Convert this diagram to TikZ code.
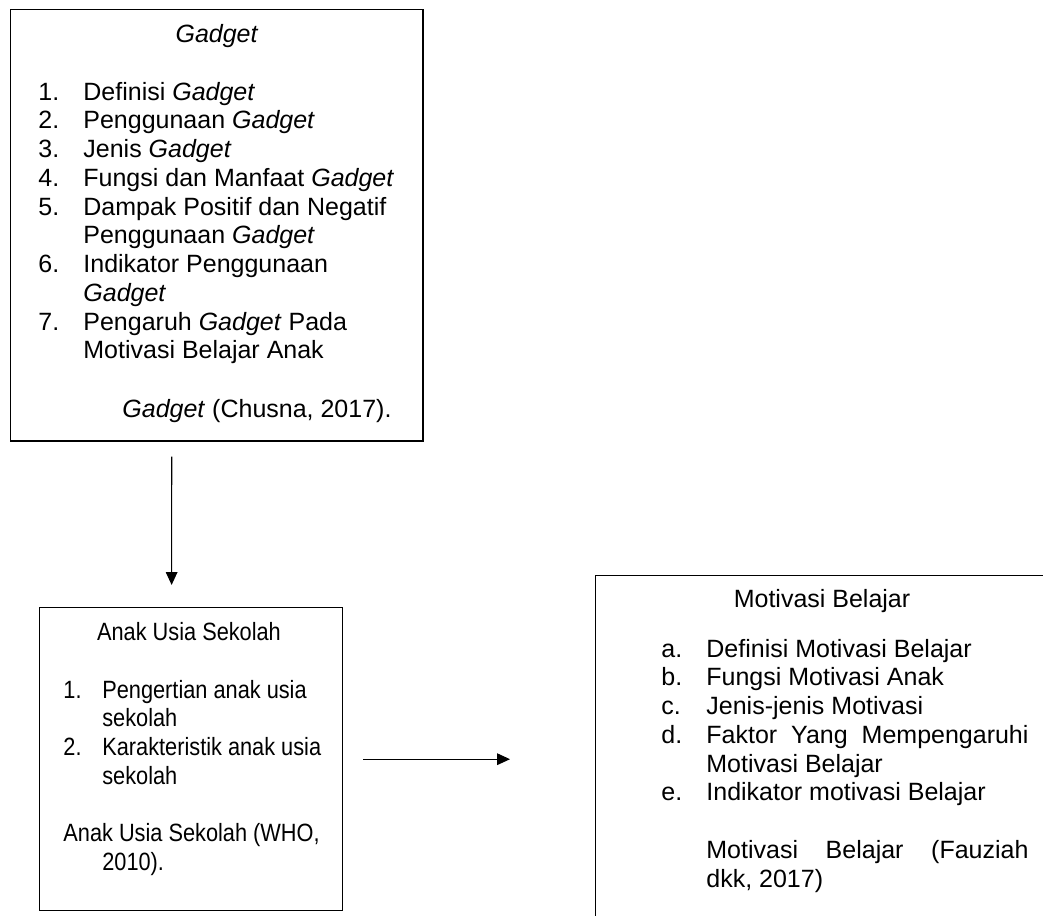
\documentclass[tikz,border=0pt]{standalone}
\usepackage{fontspec}
\setmainfont{Liberation Sans}
\newfontfamily\narrowsans{Liberation Sans}[FakeStretch=0.87]
\usetikzlibrary{arrows.meta, positioning}

\begin{document}
\begin{tikzpicture}[x=0.48pt, y=-0.48pt,
    every node/.style={font=\fontsize{12}{13.8}\selectfont, inner sep=0pt},
    box/.style={draw, line width=0.7pt, anchor=north west},
    heading/.style={anchor=base},
    itemlist/.style={anchor=base west, align=left},
    narrow/.style={font=\fontsize{12}{13.8}\narrowsans},
    arr/.style={-{Triangle[length=6.2pt, width=5.6pt]}, line width=0.5pt}
]
\path[use as bounding box, clip] (0,0) rectangle (1043,915);

% top box
\node[box, minimum width=197.8pt, minimum height=206.9pt] (gadget) at (10,9) {};
\node[heading] (gadgettitle) at (217,42) {\textit{Gadget}};
\node[itemlist] (gadgetlist) at (38,100) {\begin{tabular}[t]{@{}p{21.6pt}@{}l@{}}
1. & Definisi \textit{Gadget}\\
2. & Penggunaan \textit{Gadget}\\
3. & Jenis \textit{Gadget}\\
4. & Fungsi dan Manfaat \textit{Gadget}\\
5. & Dampak Positif dan Negatif\\
   & Penggunaan \textit{Gadget}\\
6. & Indikator Penggunaan\\
   & \textit{Gadget}\\
7. & Pengaruh \textit{Gadget} Pada\\
   & Motivasi Belajar Anak
\end{tabular}};
\node[itemlist] (gadgetcite) at (122,417) {\textit{Gadget} (Chusna, 2017).};

% bottom left box
\node[box, minimum width=145.4pt, minimum height=145.4pt] (anak) at (39,607) {};
\node[heading, narrow] (anaktitle) at (189,640) {Anak Usia Sekolah};
\node[itemlist, narrow] (anaklist) at (63,698) {\begin{tabular}[t]{@{}p{18.7pt}@{}l@{}}
1. & Pengertian anak usia\\
   & sekolah\\
2. & Karakteristik anak usia\\
   & sekolah\\
   & \\
\multicolumn{2}{@{}l@{}}{Anak Usia Sekolah (WHO,}\\
   & 2010).
\end{tabular}};

% right box (runs past the page edge)
\node[box, minimum width=240pt, minimum height=192pt] (motiv) at (595,575) {};
\node[heading] (motivtitle) at (822,607) {Motivasi Belajar};
\node[itemlist] (motivlist) at (661,657) {\begin{tabular}[t]{@{}p{21.6pt}@{}l@{}}
a. & Definisi Motivasi Belajar\\
b. & Fungsi Motivasi Anak\\
c. & Jenis-jenis Motivasi\\
d. & \makebox[154.6pt][s]{Faktor Yang Mempengaruhi}\\
   & Motivasi Belajar\\
e. & Indikator motivasi Belajar\\
   & \\
   & \makebox[154.6pt][s]{Motivasi Belajar (Fauziah}\\
   & dkk, 2017)
\end{tabular}};

% arrows
\draw[arr, shorten <=7.2pt, shorten >=10.6pt] ([xshift=-21.6pt]gadget.south) -- ([xshift=-9.4pt]anak.north);
\draw[arr, shorten <=9.6pt, shorten >=40.8pt] (anak.east) -- (anak.east -| motiv.west);

\end{tikzpicture}
\end{document}
